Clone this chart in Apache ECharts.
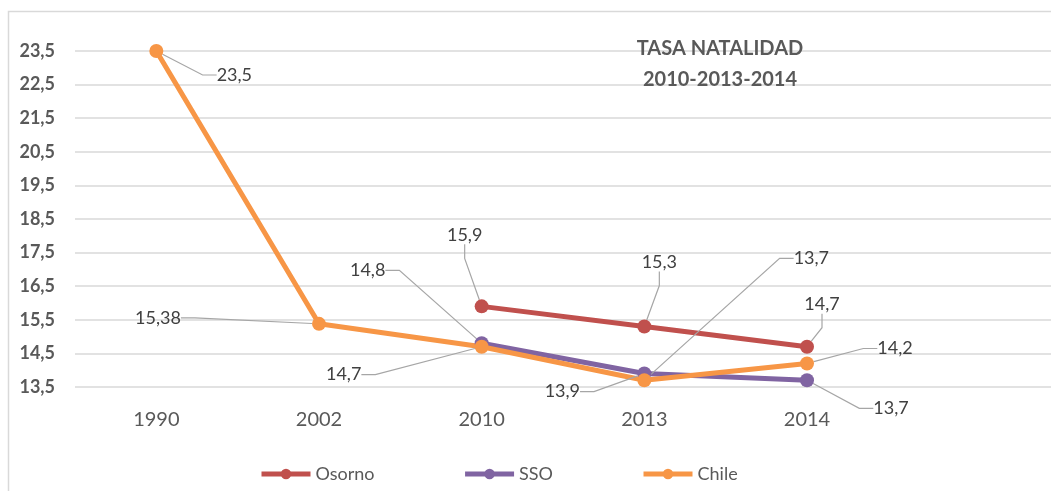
<!DOCTYPE html>
<html>
<head>
<meta charset="utf-8">
<script src="https://cdn.jsdelivr.net/npm/echarts@6/dist/echarts.min.js"></script>
<style>
  html, body { margin: 0; padding: 0; background: #fff; }
  #chart { width: 1051px; height: 491px; }
</style>
</head>
<body>
<div id="chart"></div>
<script>
// data
var years = ["1990", "2002", "2010", "2013", "2014", ""];
var osorno = [null, null, 15.9, 15.3, 14.7, null];
var sso = [null, null, 14.8, 13.9, 13.7, null];
var chile = [23.5, 15.38, 14.7, 13.7, 14.2, null];
var yTicks = [13.5, 23.5, 1];

// where each data label sits relative to its point (series index -> data index)
var labelOffsets = [
  { 2: [-17, -71], 3: [15, -64], 4: [15, -42] },
  { 2: [-114, -73], 3: [-82, 18], 4: [84, 28] },
  { 0: [78, 24], 1: [-161, -6], 2: [-138, 28], 3: [167, -122], 4: [88, -15] }
];

var font = "Lato, 'Noto Sans', sans-serif";

function comma(v) {
  return String(v).replace(".", ",");
}

function makeSeries(name, values, color) {
  return {
    name: name,
    type: "line",
    data: values,
    connectNulls: false,
    symbol: "circle",
    symbolSize: 14,
    lineStyle: { width: 5, color: color },
    itemStyle: { color: color },
    label: {
      show: true,
      position: "inside",
      fontFamily: font,
      fontSize: 18,
      color: "#404040",
      formatter: function (p) {
        return comma(p.value);
      }
    },
    labelLine: {
      show: true,
      length2: 14,
      lineStyle: { color: "#a6a6a6", width: 1.2 }
    },
    emphasis: { disabled: true },
    animation: false
  };
}

var myChart = echarts.init(document.getElementById("chart"));
myChart.setOption({
  backgroundColor: "#fff",
  textStyle: { fontFamily: font },
  title: {
    text: "TASA NATALIDAD\n2010-2013-2014",
    left: 715,
    top: 28,
    textAlign: "center",
    textStyle: {
      fontFamily: font,
      fontSize: 20,
      fontWeight: "bold",
      color: "#595959",
      lineHeight: 31
    }
  },
  graphic: [
    {
      type: "rect",
      z: -1,
      shape: { x: 8.5, y: 11.5, width: 1100, height: 600 },
      style: { fill: null, stroke: "#d9d9d9", lineWidth: 1.5 }
    }
  ],
  legend: {
    left: 254,
    top: 460,
    itemWidth: 49,
    itemHeight: 13,
    itemGap: 88,
    lineStyle: { width: 5 },
    textStyle: { fontFamily: font, fontSize: 18, color: "#595959" },
    data: ["Osorno", "SSO", "Chile"]
  },
  grid: {
    left: 75,
    top: 51,
    width: 985,
    height: 336
  },
  xAxis: {
    type: "category",
    data: years,
    boundaryGap: true,
    axisLine: { show: false },
    axisTick: { show: false },
    axisLabel: {
      margin: 23,
      fontFamily: font,
      fontSize: 20,
      color: "#595959"
    }
  },
  yAxis: {
    type: "value",
    min: yTicks[0],
    max: yTicks[1],
    interval: yTicks[2],
    axisLine: { show: false },
    axisTick: { show: false },
    splitLine: { lineStyle: { color: "#d9d9d9", width: 1.5 } },
    axisLabel: {
      margin: 20,
      fontFamily: font,
      fontSize: 18,
      fontWeight: "bold",
      color: "#595959",
      formatter: function (v) {
        return comma(v);
      }
    }
  },
  labelLayout: function (p) {
    var o = (labelOffsets[p.seriesIndex] || {})[p.dataIndex];
    if (!o) return {};
    return { dx: o[0], dy: o[1] };
  },
  series: [
    makeSeries("Osorno", osorno, "#c0504d"),
    makeSeries("SSO", sso, "#8064a2"),
    makeSeries("Chile", chile, "#f79646")
  ]
});
</script>
</body>
</html>
